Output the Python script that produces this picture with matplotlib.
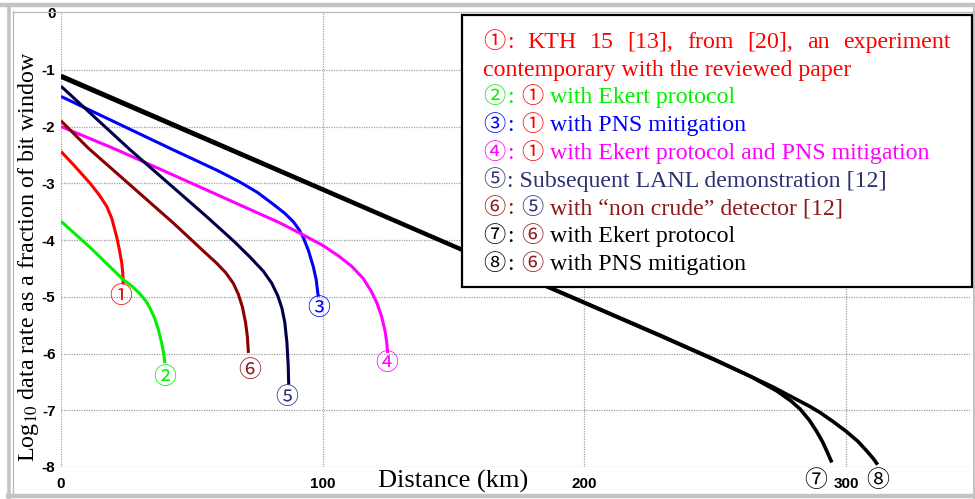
import re
import matplotlib
matplotlib.use('Agg')
import matplotlib.pyplot as plt
from matplotlib.lines import Line2D
from matplotlib.transforms import IdentityTransform

W, H = 975, 499

# ---- data (distance in km, log10 rate) ----
dist_1 = [0, 4.7, 11.1, 14.5, 17.5, 19.4, 21.3, 22.3, 23.2, 23.6, 23.8]
rate_1 = [-2.44, -2.67, -3.00, -3.20, -3.41, -3.62, -3.95, -4.17, -4.40, -4.58, -4.78]

dist_2 = [0, 11.1, 23.8, 27.0, 30.2, 32.5, 34.0, 35.8, 37.2, 38.5, 39.3, 39.7]
rate_2 = [-3.67, -4.13, -4.70, -4.81, -4.95, -5.08, -5.20, -5.38, -5.58, -5.82, -6.02, -6.17]

dist_3 = [0, 42.8, 60, 68.4, 75, 81.1, 85.5, 88.8, 91, 92.6, 94.5, 96.4, 97.5, 98.3]
rate_3 = [-1.47, -2.41, -2.78, -2.98, -3.16, -3.37, -3.53, -3.68, -3.82, -3.96, -4.18, -4.47, -4.70, -5.00]

dist_4 = [0, 21.3, 55.7, 83.7, 91.3, 100.2, 106, 111, 115.5, 118.5, 120.8, 122.5, 123.8, 124.5, 124.8]
rate_4 = [-2.00, -2.41, -3.12, -3.70, -3.88, -4.10, -4.28, -4.46, -4.68, -4.90, -5.12, -5.35, -5.60, -5.82, -5.99]

dist_5 = [0, 26.4, 55.7, 66, 72.2, 77.3, 80.5, 82.8, 84.4, 85.5, 86.3, 86.8, 87.0]
rate_5 = [-1.29, -2.41, -3.59, -4.02, -4.30, -4.55, -4.76, -4.98, -5.20, -5.45, -5.80, -6.20, -6.55]

dist_6 = [0, 10.4, 42.9, 55, 59.5, 63, 65.8, 67.8, 69.3, 70.5, 71.2, 71.6]
rate_6 = [-1.90, -2.38, -3.70, -4.22, -4.41, -4.58, -4.76, -4.96, -5.18, -5.45, -5.70, -5.99]

dist_7 = [0, 100, 200, 229, 250, 263.3, 273.5, 279, 282.4, 286, 288.8, 291, 292.6, 294.5]
rate_7 = [-1.10, -3.10, -5.10, -5.68, -6.11, -6.40, -6.66, -6.84, -6.98, -7.18, -7.38, -7.56, -7.72, -7.92]

dist_8 = [0, 100, 200, 229, 250, 263.3, 272, 279.8, 286, 290, 295, 300.2, 304.5, 307.9, 310.5, 312.0]
rate_8 = [-1.13, -3.12, -5.11, -5.69, -6.12, -6.40, -6.59, -6.78, -6.93, -7.04, -7.20, -7.38, -7.55, -7.72, -7.86, -7.96]

curve_names = ['①', '②', '③', '④', '⑤', '⑥', '⑦', '⑧']
x_ticks = [0, 100, 200, 300]
y_ticks = [-8, -7, -6, -5, -4, -3, -2, -1, 0]

RED, GREEN, BLUE, MAG = '#ff0000', '#00f000', '#0000ff', '#ff00ff'
NAVY, BROWN, BLACK = '#000048', '#8b0000', '#000000'
NAVY_T, BROWN_T = '#2b3270', '#8b1a1a'

legend_lines = [
    [('①: KTH 15 [13], from [20], an experiment', RED)],
    [('contemporary with the reviewed paper', RED)],
    [('②: ', GREEN), ('①', RED), (' with Ekert protocol', GREEN)],
    [('③: ', BLUE), ('①', RED), (' with PNS mitigation', BLUE)],
    [('④: ', MAG), ('①', RED), (' with Ekert protocol and PNS mitigation', MAG)],
    [('⑤: Subsequent LANL demonstration [12]', NAVY_T)],
    [('⑥: ', BROWN_T), ('⑤', NAVY_T), (' with \u201cnon crude\u201d detector [12]', BROWN_T)],
    [('⑦: ', BLACK), ('⑥', BROWN_T), (' with Ekert protocol', BLACK)],
    [('⑧: ', BLACK), ('⑥', BROWN_T), (' with PNS mitigation', BLACK)],
]

SERIF = ['Liberation Serif', 'DejaVu Serif']
CIRC = ['Noto Sans CJK JP', 'DejaVu Sans']
TICKF = dict(family=['Liberation Sans', 'DejaVu Sans'], weight='bold', size=11)

plt.rcParams['mathtext.fontset'] = 'stix'

fig = plt.figure(figsize=(W / 100, H / 100), dpi=100)
ax = fig.add_axes([61 / W, (H - 467) / H, (970 - 61) / W, (467 - 13) / H])
ax.set_xlim(0, 347.3)
ax.set_ylim(-8, 0)
for s in ax.spines.values():
    s.set_visible(False)

# dotted grid
for v in y_ticks[:-1]:
    ax.axhline(v, color='#a0a0a0', lw=0.9, ls=(0, (1, 1)), zorder=0)
for v in x_ticks:
    ax.axvline(v, color='#a0a0a0', lw=0.9, ls=(0, (1, 1)), zorder=0)

series = [(dist_1, rate_1, RED, 2.2), (dist_2, rate_2, GREEN, 2.2),
          (dist_3, rate_3, BLUE, 2.2), (dist_4, rate_4, MAG, 2.2),
          (dist_5, rate_5, NAVY, 2.2), (dist_6, rate_6, BROWN, 2.2),
          (dist_7, rate_7, BLACK, 2.6), (dist_8, rate_8, BLACK, 2.6)]
label_off = [(-3, -12), (0, -14), (0, -12), (-1, -11), (-2, -13), (1, -18), (-16, -18), (0, -16)]
label_col = [RED, GREEN, BLUE, MAG, NAVY_T, BROWN_T, BLACK, BLACK]
for (xs, ys, c, lw), name, off, lc in zip(series, curve_names, label_off, label_col):
    ax.plot(xs, ys, color=c, lw=lw, solid_capstyle='butt', solid_joinstyle='round')
    ax.annotate(name, (xs[-1], ys[-1]), xytext=off, textcoords='offset pixels',
                ha='center', va='center', color=lc, fontsize=16.5, family=CIRC,
                annotation_clip=False)

ax.set_xticks(x_ticks)
ax.set_xticklabels([str(v) for v in x_ticks], **TICKF)
ax.set_yticks(y_ticks)
ax.set_yticklabels([str(v) for v in y_ticks], **TICKF)
ax.tick_params(length=0, pad=4)
ax.tick_params(axis='x', pad=7)

fig.text(29 / W, 1 - 257 / H, r'Log$_{10}$ data rate as a fraction of bit window',
         rotation=90, ha='center', va='center', family=SERIF, fontsize=17.3)
fig.text(453 / W, 1 - 488 / H, 'Distance (km)', ha='center', va='baseline',
         family=SERIF, fontsize=19)

# frame around the figure
px = IdentityTransform()
def hline(y, x0, x1, c, lw):
    fig.add_artist(Line2D([x0, x1], [H - y, H - y], color=c, lw=lw, transform=px))
def vline(x, y0, y1, c, lw):
    fig.add_artist(Line2D([x, x], [H - y0, H - y1], color=c, lw=lw, transform=px))
hline(5, 0, W, '#c4c4c4', 3.2)
vline(8.5, 5, H, '#c4c4c4', 2.6)
hline(495.5, 8, W, '#c4c4c4', 3.2)
vline(974, 5, H, '#c4c4c4', 1.5)
hline(11.5, 13, W, '#b8b8b8', 0.9)
vline(13, 11, 493, '#b8b8b8', 0.9)

# legend box
fig.add_artist(plt.Rectangle((462, H - 287), 510, 272, transform=px, fill=True,
                             facecolor='white', edgecolor='black', lw=1.6, zorder=5))

renderer = fig.canvas.get_renderer()
LEG_SIZE = 17.2
CIRC_SIZE = 16

def make(s, c, circ):
    return fig.text(0, 0, s, color=c, transform=px, ha='left', va='baseline',
                    family=CIRC if circ else SERIF,
                    fontsize=CIRC_SIZE if circ else LEG_SIZE, zorder=6)

t = make('a a', 'k', False); w_aa_sp = t.get_window_extent(renderer).width; t.remove()
t = make('aa', 'k', False); space_w = w_aa_sp - t.get_window_extent(renderer).width; t.remove()

def draw_line(segs, x0, y_base, right=None):
    # split into circled digits and plain runs; leading/trailing blanks become gaps
    items = []
    pattern = r'[①-⑧]|[^ ①-⑧]+| ' if right is not None else r'[①-⑧]|[^①-⑧]+'
    for s, c in segs:
        for tok in re.findall(pattern, s):
            if tok.strip() == '':
                items.extend([None] * len(tok))
                continue
            lead = len(tok) - len(tok.lstrip(' '))
            trail = len(tok) - len(tok.rstrip(' '))
            items.extend([None] * lead)
            a = make(tok.strip(' '), c, tok in curve_names)
            items.append((a, a.get_window_extent(renderer).width + 1.5))
            items.extend([None] * trail)
    gap = space_w
    if right is not None:
        n_sp = sum(1 for i in items if i is None)
        used = sum(i[1] for i in items if i is not None)
        gap = (right - x0 - used) / n_sp
    x = x0
    for it in items:
        if it is None:
            x += gap
        else:
            it[0].set_position((x, H - y_base))
            x += it[1]

base0 = 48
for i, segs in enumerate(legend_lines):
    draw_line(segs, 483, base0 + i * 27.7, right=952 if i == 0 else None)

fig.savefig('out.png', dpi=100)
